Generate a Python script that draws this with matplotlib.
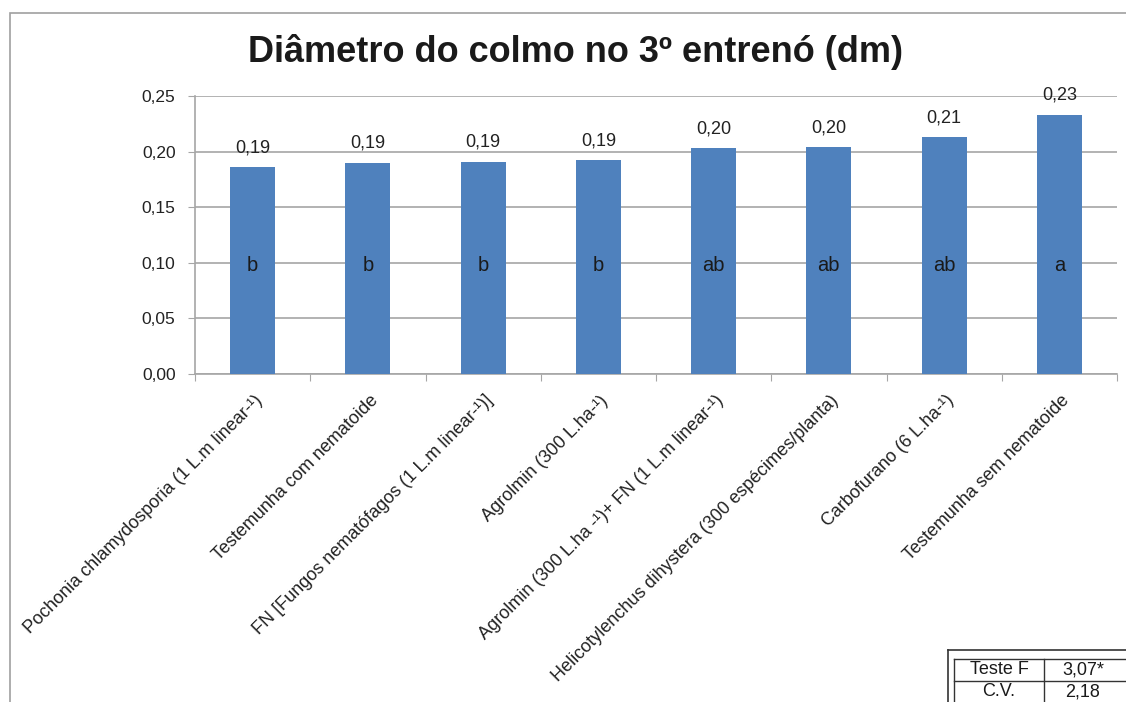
import matplotlib.pyplot as plt
from matplotlib.patches import Rectangle
from matplotlib.lines import Line2D

plt.rcParams['font.family'] = ['Liberation Sans', 'DejaVu Sans']

tratamentos = ['Pochonia chlamydosporia (1 L.m linear-\u00b9)',
               'Testemunha com nematoide',
               'FN [Fungos nemat\u00f3fagos (1 L.m linear-\u00b9)]',
               'Agrolmin (300 L.ha-\u00b9)',
               'Agrolmin (300 L.ha -\u00b9)+ FN (1 L.m linear-\u00b9)',
               'Helicotylenchus dihystera (300 esp\u00e9cimes/planta)',
               'Carbofurano (6 L.ha-\u00b9)',
               'Testemunha sem nematoide']
diametro = [0.186, 0.190, 0.191, 0.192, 0.203, 0.204, 0.213, 0.233]
letras = ['b', 'b', 'b', 'b', 'ab', 'ab', 'ab', 'a']
yticks = [0.00, 0.05, 0.10, 0.15, 0.20, 0.25]
tabela = [['Teste F', '3,07*'], ['C.V.', '2,18']]

W, H = 1126, 702
fig = plt.figure(figsize=(W / 100, H / 100), dpi=100)

# moldura externa
fig.patches.append(Rectangle((10 / W, -0.01), 1.1, 1 - 13 / H + 0.01,
                             transform=fig.transFigure, fill=False,
                             edgecolor='#a0a0a0', linewidth=1.2))

ax = fig.add_axes([195 / W, 1 - 374 / H, (1117 - 195) / W, (374 - 96) / H])

x = range(len(tratamentos))
ax.bar(x, diametro, width=0.39, color='#4f81bd', zorder=3)
ax.set_xlim(-0.5, len(tratamentos) - 0.5)
ax.set_ylim(0, 0.25)
ax.set_yticks(yticks)
ax.set_yticklabels([('%.2f' % v).replace('.', ',') for v in yticks], fontsize=12.5)
ax.grid(axis='y', color='#a6a6a6', linewidth=1.2, zorder=0)

for s in ['top', 'right']:
    ax.spines[s].set_visible(False)
ax.spines['left'].set_color('#a6a6a6')
ax.spines['bottom'].set_color('#a6a6a6')
ax.spines['left'].set_linewidth(1.2)
ax.spines['bottom'].set_linewidth(1.2)
ax.tick_params(axis='y', length=5, color='#a6a6a6', pad=9, labelcolor='#222222')

# ticks do eixo x entre categorias
ax.set_xticks([i - 0.5 for i in range(len(tratamentos) + 1)], minor=False)
ax.set_xticklabels([])
ax.tick_params(axis='x', length=5, color='#a6a6a6')
for i, t in enumerate(tratamentos):
    ax.annotate(t, xy=(i, 0), xycoords=('data', 'axes fraction'),
                xytext=(1, -13), textcoords='offset points',
                rotation=45, ha='right', va='top', rotation_mode='anchor',
                fontsize=13, color='#222222')

for i, v in enumerate(diametro):
    ax.annotate(('%.2f' % v).replace('.', ','), xy=(i, v),
                xytext=(0, 14), textcoords='offset points',
                ha='center', va='center', fontsize=13, color='#222222', zorder=4)
    ax.text(i, 0.098, letras[i], ha='center', va='center',
            fontsize=14.5, color='#1a1a1a', zorder=4)

fig.text(575 / W, 1 - 52 / H, 'Di\u00e2metro do colmo no 3\u00ba entren\u00f3 (dm)',
         ha='center', va='center', fontsize=26, fontweight='bold', color='#1a1a1a')

# tabela com o teste F e o C.V.
x0, x1, x2 = 954, 1044, 1140
y0, y1, y2 = 659, 681, 703
fig.add_artist(Line2D([948 / W, 948 / W], [0, 1 - 650 / H], color='#333333', linewidth=1.2))
fig.add_artist(Line2D([948 / W, 1], [1 - 650 / H, 1 - 650 / H], color='#333333', linewidth=1.2))
for xa in [x0, x1]:
    fig.add_artist(Line2D([xa / W, xa / W], [0, 1 - y0 / H], color='#333333', linewidth=1))
for ya in [y0, y1]:
    fig.add_artist(Line2D([x0 / W, 1], [1 - ya / H, 1 - ya / H], color='#333333', linewidth=1))
for r, (ya, yb) in enumerate([(y0, y1), (y1, y2)]):
    yc = 1 - (ya + yb) / 2 / H
    fig.text((x0 + x1) / 2 / W, yc, tabela[r][0], ha='center', va='center',
             fontsize=13, color='#1a1a1a')
    fig.text((x1 + 1122) / 2 / W, yc, tabela[r][1], ha='center', va='center',
             fontsize=13, color='#1a1a1a')

fig.savefig('out.png', dpi=100)
